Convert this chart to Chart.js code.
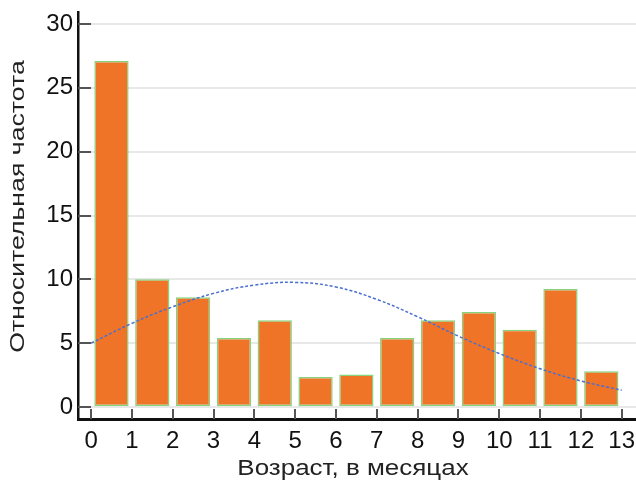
<!DOCTYPE html>
<html>
<head>
<meta charset="utf-8">
<script src="https://cdn.jsdelivr.net/npm/chart.js@4.4.1/dist/chart.umd.min.js"></script>
<style>
  html, body { margin: 0; padding: 0; background: #fff; }
  #wrap { width: 636px; height: 487px; }
</style>
</head>
<body>
<div id="wrap"><canvas id="chart" width="636" height="487"></canvas></div>
<script>
// Histogram: relative frequency per 1-month age bin
const binStarts = [0, 1, 2, 3, 4, 5, 6, 7, 8, 9, 10, 11, 12];
const frequency = [27.1, 10.0, 8.6, 5.4, 6.8, 2.35, 2.55, 5.4, 6.8, 7.45, 6.05, 9.25, 2.8];

// fitted curve, read at each month
const curveX = [0, 1, 2, 3, 4, 5, 6, 7, 8, 9, 10, 11, 12, 13];
const curveY = [5.0, 6.55, 7.85, 8.9, 9.55, 9.76, 9.4, 8.43, 7.07, 5.55, 4.19, 3.0, 2.04, 1.31];

const xTicks = [0, 1, 2, 3, 4, 5, 6, 7, 8, 9, 10, 11, 12, 13];
const yTicks = [0, 5, 10, 15, 20, 25, 30];

const xTitle = "Возраст, в месяцах";
const yTitle = "Относительная частота";

const FONT = '"Liberation Sans", Arial, sans-serif';

// short tick marks drawn inside the plot, like the original
const innerTicks = {
  id: "innerTicks",
  afterDatasetsDraw(chart) {
    const { ctx, chartArea, scales } = chart;
    ctx.save();
    ctx.strokeStyle = "#555";
    ctx.lineWidth = 2;
    ctx.beginPath();
    yTicks.forEach(function (v) {
      let y = Math.round(scales.y.getPixelForValue(v));
      ctx.moveTo(chartArea.left, y);
      ctx.lineTo(chartArea.left + 13, y);
    });
    xTicks.forEach(function (v) {
      let x = Math.round(scales.x.getPixelForValue(v));
      ctx.moveTo(x, chartArea.bottom);
      ctx.lineTo(x, chartArea.bottom - 10);
    });
    ctx.stroke();
    ctx.restore();
  }
};

// axis titles (the original text is a bit stretched sideways)
const axisTitles = {
  id: "axisTitles",
  afterDraw(chart) {
    const { ctx, chartArea } = chart;
    ctx.save();
    ctx.fillStyle = "#222";
    ctx.textAlign = "center";
    ctx.textBaseline = "alphabetic";
    ctx.font = "22px " + FONT;
    ctx.translate(353, 475);
    ctx.scale(1.18, 1);
    ctx.fillText(xTitle, 0, 0);
    ctx.restore();

    ctx.save();
    ctx.fillStyle = "#222";
    ctx.textAlign = "center";
    ctx.textBaseline = "alphabetic";
    ctx.font = "21px " + FONT;
    ctx.translate(24, (chartArea.top + chartArea.bottom) / 2 - 9);
    ctx.rotate(-Math.PI / 2);
    ctx.scale(1.27, 1);
    ctx.fillText(yTitle, 0, 0);
    ctx.restore();
  }
};

new Chart(document.getElementById("chart"), {
  data: {
    datasets: [
      {
        type: "line",
        label: "curve",
        data: curveX.map(function (x, i) { return { x: x, y: curveY[i] }; }),
        borderColor: "#4a6fd0",
        borderWidth: 1.5,
        borderDash: [3, 2],
        pointRadius: 0,
        tension: 0.4,
        fill: false,
        order: 0
      },
      {
        type: "bar",
        label: "frequency",
        data: binStarts.map(function (x, i) { return { x: x + 0.5, y: frequency[i] }; }),
        backgroundColor: "#f07428",
        borderColor: "#88d27e",
        borderWidth: 1.5,
        borderSkipped: false,
        categoryPercentage: 1,
        barPercentage: 0.84,
        order: 1
      }
    ]
  },
  options: {
    responsive: false,
    animation: false,
    layout: { padding: { top: 12, right: 0, left: 0, bottom: 0 } },
    plugins: {
      legend: { display: false },
      tooltip: { enabled: false }
    },
    scales: {
      x: {
        type: "linear",
        offset: false,
        min: -0.32,
        max: 13.35,
        afterBuildTicks: function (scale) {
          scale.ticks = xTicks.map(function (v) { return { value: v }; });
        },
        afterFit: function (scale) {
          scale.height = 68;
          scale.paddingLeft = 0;
          scale.paddingRight = 0;
        },
        grid: { display: false, drawTicks: false },
        border: { display: true, color: "#111", width: 3 },
        ticks: {
          autoSkip: false,
          maxRotation: 0,
          padding: 8,
          color: "#111",
          font: { family: FONT, size: 24 }
        }
      },
      y: {
        type: "linear",
        min: -0.94,
        max: 30.94,
        afterBuildTicks: function (scale) {
          scale.ticks = yTicks.map(function (v) { return { value: v }; });
        },
        afterFit: function (scale) {
          scale.width = 78;
          scale.paddingTop = 0;
          scale.paddingBottom = 0;
        },
        grid: { color: "#e8e8e8", lineWidth: 2, drawTicks: false },
        border: { display: true, color: "#111", width: 2.5 },
        ticks: {
          padding: 5,
          color: "#111",
          font: { family: FONT, size: 24 }
        }
      }
    }
  },
  plugins: [innerTicks, axisTitles]
});
</script>
</body>
</html>
